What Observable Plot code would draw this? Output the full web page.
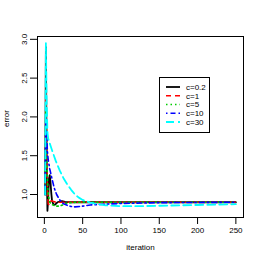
<!DOCTYPE html>
<html><head><meta charset="utf-8">
<script src="https://cdn.jsdelivr.net/npm/d3@7"></script>
<script src="https://cdn.jsdelivr.net/npm/@observablehq/plot@0.6"></script>
<style>
body{margin:0;background:#fff;}
#wrap{position:relative;width:263px;height:263px;font-family:"Liberation Sans",Arial,sans-serif;}
#wrap svg{position:absolute;left:0;top:0;}
</style></head><body><div id="wrap"></div>
<script>
const labels = ["c=0.2","c=1","c=5","c=10","c=30"];
const colors = ["#000000","#ff0000","#00cd00","#0000ff","#00ffff"];
const dashes = ["none","5,4","1.5,3","1.5,3,5,3","8,4"];
const widths = [1.8,1.6,1.6,1.6,1.8];
// [iteration, error] per series
const s02 = [[1,1.0],[2,2.9],[3,1.4],[4,0.79],[5,0.95],[6,1.2],[7,1.25],[8,1.16],[9,1.02],[10,0.92],[12,0.87],[14,0.87],[17,0.9],[20,0.91],[23,0.915],[27,0.905],[35,0.9],[250,0.9]];
const s1 = [[1,1.0],[2,2.3],[3,1.7],[4,1.1],[5,0.88],[6,0.87],[7,0.9],[9,0.92],[12,0.91],[15,0.9],[250,0.9]];
const s5 = [[1,1.0],[2,2.2],[3,1.5],[4,1.2],[5,1.0],[7,0.9],[10,0.87],[15,0.85],[20,0.85],[25,0.87],[30,0.89],[40,0.9],[250,0.9]];
const s10 = [[1,1.0],[2,2.0],[3,1.75],[4,1.55],[5,1.45],[7,1.33],[10,1.2],[13,1.08],[16,1.0],[20,0.93],[25,0.88],[30,0.86],[35,0.845],[40,0.84],[50,0.85],[60,0.865],[80,0.875],[100,0.885],[150,0.895],[250,0.9]];
const s30 = [[1,1.0],[2,2.95],[3,2.2],[4,1.8],[5,1.72],[7,1.66],[10,1.57],[15,1.43],[20,1.31],[25,1.21],[30,1.13],[35,1.06],[40,1.0],[45,0.96],[50,0.93],[60,0.895],[70,0.875],[80,0.86],[100,0.85],[125,0.85],[150,0.855],[175,0.86],[200,0.865],[225,0.87],[250,0.875]];
const series = [s02,s1,s5,s10,s30];
const xTicks = [0,50,100,150,200,250];
const yTicks = [1.0,1.5,2.0,2.5,3.0];

const marks = [];
series.forEach((s,i)=>{
  marks.push(Plot.line(s,{x:d=>d[0],y:d=>d[1],stroke:colors[i],strokeWidth:widths[i],strokeDasharray:dashes[i]}));
});
const chart = Plot.plot({
  width:263,height:263,
  marginLeft:37,marginRight:20,marginTop:36,marginBottom:46,
  style:{fontFamily:"Liberation Sans, Arial, sans-serif",fontSize:"8px",color:"#000",background:"transparent"},
  x:{domain:[-8.96,259.96]},
  y:{domain:[0.7036,3.0364]},
  marks:[
    ...marks,
    Plot.frame({stroke:"#000",strokeWidth:1}),
    Plot.axisX({ticks:xTicks,tickSize:7,tickPadding:3,label:null,fontSize:8}),
    Plot.axisY({ticks:yTicks,tickSize:7,tickPadding:4,tickRotate:-90,tickFormat:d3.format(".1f"),label:null,fontSize:8}),
    Plot.text(["iteration"],{frameAnchor:"bottom",dy:32,fontSize:8}),
    Plot.text(["error"],{frameAnchor:"left",dx:-31,rotate:-90,fontSize:8})
  ]
});
const wrap = document.getElementById("wrap");
wrap.appendChild(chart);
// legend
const leg = d3.select(wrap).append("svg").attr("width",263).attr("height",263)
  .style("font-family","Liberation Sans, Arial, sans-serif").style("font-size","8px");
leg.append("rect").attr("x",159.5).attr("y",77.5).attr("width",50).attr("height",55).attr("fill","white").attr("stroke","#000");
labels.forEach((l,i)=>{
  const y = 87 + i*8.75;
  leg.append("line").attr("x1",166).attr("x2",180).attr("y1",y).attr("y2",y)
    .attr("stroke",colors[i]).attr("stroke-width",widths[i]).attr("stroke-dasharray",dashes[i]);
  leg.append("text").attr("x",186).attr("y",y).attr("dy","0.35em").text(l);
});
</script></body></html>
